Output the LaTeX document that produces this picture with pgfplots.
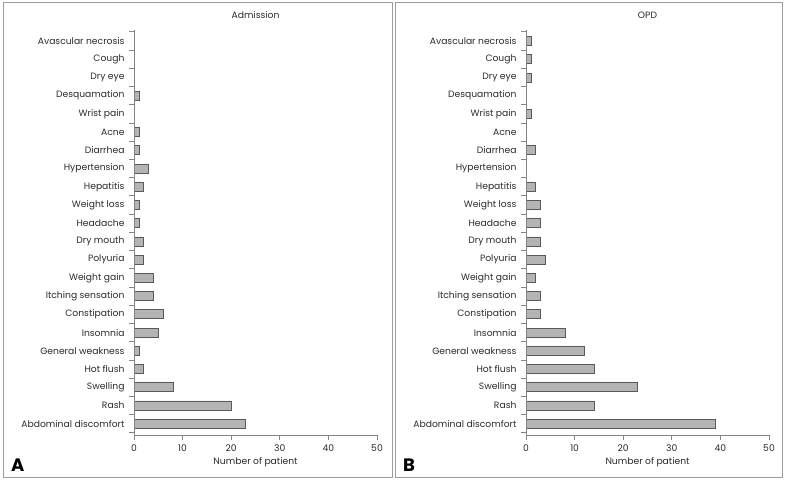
\documentclass[border=0pt]{standalone}
\usepackage{pgfplots}
\pgfplotsset{compat=1.18}
\usepackage{pgfplotstable}
\usepackage{fontspec}
\setmainfont{Poppins}
\definecolor{barfill}{HTML}{B4B4B4}
\definecolor{baredge}{HTML}{5A5A5A}
\definecolor{axgray}{HTML}{858585}
\definecolor{txt}{HTML}{2A2A2A}

% idx value (0 = Abdominal discomfort at bottom)
\pgfplotstableread{
idx val
0 23
1 20
2 8
3 2
4 1
5 5
6 6
7 4
8 4
9 2
10 2
11 1
12 1
13 2
14 3
15 1
16 1
17 0
18 1
19 0
20 0
21 0
}\admission
\pgfplotstableread{
idx val
0 39
1 14
2 23
3 14
4 12
5 8
6 3
7 3
8 2
9 4
10 3
11 3
12 3
13 2
14 0
15 2
16 0
17 1
18 0
19 1
20 1
21 1
}\opd

\pgfplotsset{
  panel/.style={
    scale only axis,
    width=243bp, height=405bp,
    anchor=south west,
    xmin=0, xmax=50,
    ymin=-0.62, ymax=21.6,
    xtick={0,10,...,50},
    ytick={-0.5,0.5,...,21.5},
    yticklabels={},
    extra y ticks={0,...,21},
    extra y tick labels={Abdominal discomfort,Rash,Swelling,Hot flush,General weakness,Insomnia,Constipation,Itching sensation,Weight gain,Polyuria,Dry mouth,Headache,Weight loss,Hepatitis,Hypertension,Diarrhea,Acne,Wrist pain,Desquamation,Dry eye,Cough,Avascular necrosis},
    extra y tick style={major tick length=0pt},
    axis line style={draw=none},
    xtick pos=bottom, ytick pos=left,
    tick align=outside,
    tick style={draw=axgray, line width=0.8bp},
    major tick length=5bp,
    tick label style={font=\fontsize{9.2bp}{11bp}\selectfont, text=txt},
    /pgf/number format/assume math mode=true,
    xticklabel style={yshift=-1bp},
    yticklabel style={xshift=-6bp},
    xlabel={Number of patient},
    xlabel style={font=\fontsize{9.2bp}{11bp}\selectfont, text=txt, yshift=1bp},
    title style={font=\fontsize{9.2bp}{11bp}\selectfont, text=txt, yshift=2bp},
    xbar, bar width=9bp,
    clip=false,
    extra description/.code={
      \draw[axgray, line width=0.9bp] (rel axis cs:0,1) -- (rel axis cs:0,0) -- (rel axis cs:1,0);
    },
  },
  mybar/.style={fill=barfill, draw=baredge, line width=0.7bp},
}

\begin{document}
\begin{tikzpicture}[x=1bp,y=1bp]
\path[use as bounding box] (0,0) rectangle (787,-482);
\draw[axgray!80, line width=1bp] (3,-3) rectangle (392,-477);
\draw[axgray!80, line width=1bp] (395,-3) rectangle (782,-477);

\begin{axis}[panel, at={(134bp,-435bp)}, title={Admission}]
\addplot[mybar] table[x=val, y=idx] {\admission};
\end{axis}
\node[font=\fontsize{18bp}{20bp}\selectfont\bfseries, text=black, anchor=base west, inner sep=0pt] at (11,-471) {A};

\begin{axis}[panel, at={(526bp,-435bp)}, title={OPD}]
\addplot[mybar] table[x=val, y=idx] {\opd};
\end{axis}
\node[font=\fontsize{18bp}{20bp}\selectfont\bfseries, text=black, anchor=base west, inner sep=0pt] at (403,-471) {B};
\end{tikzpicture}
\end{document}
